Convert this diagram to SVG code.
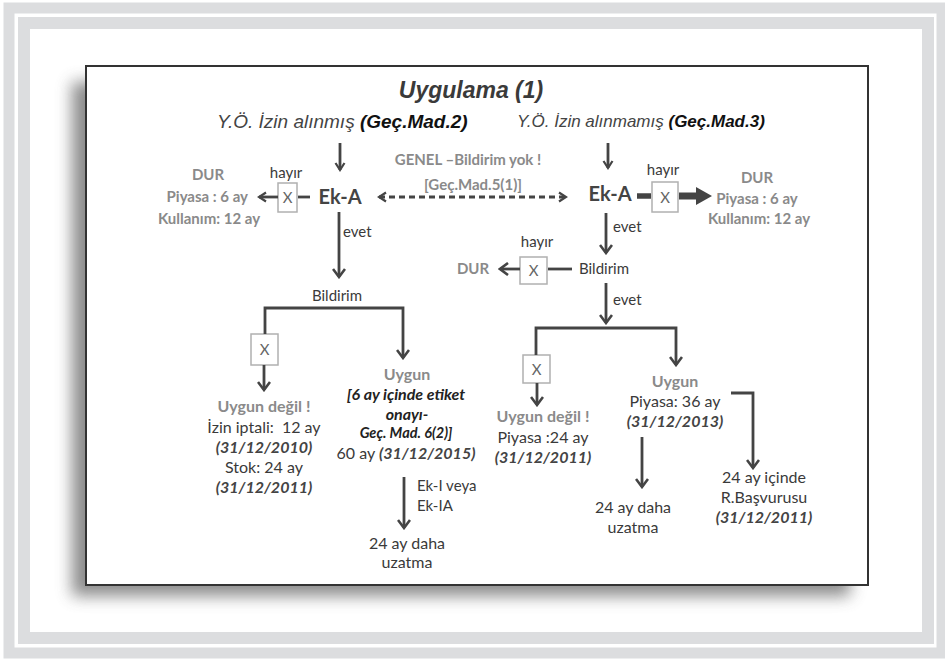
<svg xmlns="http://www.w3.org/2000/svg" width="945" height="660" viewBox="0 0 945 660">
<defs>
<style>
.t{font-family:Lato,"Liberation Sans",sans-serif;font-size:15px;fill:#3a3a3a}
.s16{font-size:16px}
.s20{font-size:20px}
.s13{font-size:14.5px}
.g{fill:#8a8a8a;font-weight:bold}
.b{font-weight:bold}
.bi{font-style:italic;font-weight:bold}
.dk{fill:#222}
.md{fill:#444}
.c{text-anchor:middle}
.h{font-family:"Liberation Sans",Arial,sans-serif;font-style:italic}
.ln{fill:none;stroke:#444;stroke-width:2.8}
.xb{fill:#fff;stroke:#b0b0b0;stroke-width:1.5}
.xt{font-family:Lato,"Liberation Sans",sans-serif;font-size:15px;fill:#666;text-anchor:middle}
</style>
<marker id="ah" viewBox="0 0 14 14" refX="12" refY="7" markerWidth="14" markerHeight="14" markerUnits="userSpaceOnUse" orient="auto">
<path d="M4,1 L12,7 L4,13" fill="none" stroke="#444" stroke-width="2.6"/>
</marker>
<marker id="ahs" viewBox="0 0 12 12" refX="10" refY="6" markerWidth="12" markerHeight="12" markerUnits="userSpaceOnUse" orient="auto-start-reverse">
<path d="M3,1.5 L10,6 L3,10.5" fill="none" stroke="#444" stroke-width="2.2"/>
</marker>
<filter id="sh" x="-10%" y="-10%" width="120%" height="130%">
<feGaussianBlur stdDeviation="8"/>
</filter>
</defs>

<rect x="0" y="0" width="945" height="660" fill="#fff"/>
<!-- frame bands -->
<rect x="9" y="8" width="933" height="645" fill="none" stroke="#dcdddf" stroke-width="11"/>
<rect x="24" y="23" width="904" height="615" fill="none" stroke="#dcdddf" stroke-width="12"/>

<!-- panel with shadow -->
<rect x="72" y="82" width="778" height="514" fill="#777" opacity="0.85" filter="url(#sh)"/>
<rect x="86" y="66" width="782" height="519" fill="#fff" stroke="#333" stroke-width="2"/>

<g id="title">
<text x="471" y="98" class="h c" font-size="23" font-weight="bold" fill="#3a3a3a">Uygulama (1)</text>
</g>
<g id="head-left">
<text x="217" y="128" class="h" font-size="19" fill="#444">Y.Ö. İzin alınmış <tspan font-weight="bold" fill="#111">(Geç.Mad.2)</tspan></text>
</g>
<g id="head-right">
<text x="517" y="127" class="h" font-size="17" fill="#444">Y.Ö. İzin alınmamış <tspan font-weight="bold" fill="#111">(Geç.Mad.3)</tspan></text>
</g>

<g id="genel">
<text x="468" y="165" class="t g c">GENEL –Bildirim yok !</text>
<text x="473" y="190" class="t g c">[Geç.Mad.5(1)]</text>
</g>

<!-- left top -->
<g id="dur-left">
<text x="208" y="180" class="t g c">DUR</text>
<text x="248" y="202" class="t g" text-anchor="end">Piyasa : 6 ay</text>
<text x="209" y="224" class="t g c">Kullanım: 12 ay</text>
</g>
<g id="hayir-left"><text x="286" y="178" class="t c">hayır</text></g>
<g id="x-left-top"><rect x="278" y="183" width="19" height="29" class="xb"/><text x="287.5" y="203" class="xt">X</text></g>
<g id="eka-left"><text x="340" y="204" class="t b c s20 md">Ek-A</text></g>
<g id="evet-left"><text x="343" y="237" class="t">evet</text></g>
<g id="bildirim-left"><text x="337" y="301" class="t c">Bildirim</text></g>
<g id="x-left-low"><rect x="251" y="334" width="27" height="31" class="xb"/><text x="264.5" y="355" class="xt">X</text></g>
<g id="uygun-degil-left">
<text x="264" y="412" class="t g c s16">Uygun değil !</text>
<text x="264" y="433" class="t c s16" xml:space="preserve">İzin iptali:  12 ay</text>
<text x="264" y="453" class="t bi c s16 md">(31/12/2010)</text>
<text x="264" y="473" class="t c s16">Stok: 24 ay</text>
<text x="264" y="493" class="t bi c s16 md">(31/12/2011)</text>
</g>
<g id="uygun-left">
<text x="407" y="380" class="t g c s16">Uygun</text>
<text x="406" y="400" class="t bi c s16 dk">[6 ay içinde etiket</text>
<text x="407" y="420" class="t bi c s16 dk">onayı-</text>
<text x="406" y="438" class="t bi c s13 dk">Geç. Mad. 6(2)]</text>
<text x="406" y="459" class="t c s16">60 ay <tspan class="bi md">(31/12/2015)</tspan></text>
</g>
<g id="ek-label">
<text x="417" y="491" class="t">Ek-I veya</text>
<text x="417" y="511" class="t">Ek-IA</text>
</g>
<g id="uzatma-left">
<text x="407" y="549" class="t c s16">24 ay daha</text>
<text x="407" y="568" class="t c s16">uzatma</text>
</g>

<!-- right top -->
<g id="hayir-right"><text x="663" y="175" class="t c">hayır</text></g>
<g id="eka-right"><text x="610" y="201" class="t b c s20 md">Ek-A</text></g>
<g id="x-right-top"><rect x="652" y="182" width="26" height="30" class="xb"/><text x="665" y="203" class="xt">X</text></g>
<g id="dur-right">
<text x="757" y="183" class="t g c">DUR</text>
<text x="757" y="204" class="t g c">Piyasa : 6 ay</text>
<text x="759" y="224" class="t g c">Kullanım: 12 ay</text>
</g>
<g id="evet-right1"><text x="613" y="232" class="t">evet</text></g>
<g id="hayir-right2"><text x="537" y="247" class="t c">hayır</text></g>
<g id="dur-mid"><text x="473" y="274" class="t g c">DUR</text></g>
<g id="x-right-mid"><rect x="520" y="257" width="27" height="27" class="xb"/><text x="533.5" y="276" class="xt">X</text></g>
<g id="bildirim-right"><text x="604" y="274" class="t c">Bildirim</text></g>
<g id="evet-right2"><text x="613" y="305" class="t">evet</text></g>
<g id="x-right-low"><rect x="523" y="355" width="27" height="28" class="xb"/><text x="536.5" y="375" class="xt">X</text></g>
<g id="uygun-degil-right">
<text x="543" y="422" class="t g c s16">Uygun değil !</text>
<text x="543" y="443" class="t c s16">Piyasa :24 ay</text>
<text x="543" y="463" class="t bi c s16 md">(31/12/2011)</text>
</g>
<g id="uygun-right">
<text x="675" y="387" class="t g c s16">Uygun</text>
<text x="675" y="407" class="t c s16">Piyasa: 36 ay</text>
<text x="675" y="427" class="t bi c s16 md">(31/12/2013)</text>
</g>
<g id="uzatma-right">
<text x="633" y="513" class="t c s16">24 ay daha</text>
<text x="633" y="533" class="t c s16">uzatma</text>
</g>
<g id="basvuru">
<text x="764" y="483" class="t c s16">24 ay içinde</text>
<text x="764" y="503" class="t c s16">R.Başvurusu</text>
<text x="764" y="523" class="t bi c s16 md">(31/12/2011)</text>
</g>

<g id="connectors">
<!-- heading arrows -->
<line x1="340" y1="143" x2="340" y2="170" class="ln" stroke-width="2.2" marker-end="url(#ahs)"/>
<line x1="608" y1="143" x2="608" y2="168" class="ln" stroke-width="2.2" marker-end="url(#ahs)"/>
<!-- dashed double arrow -->
<line x1="379" y1="197" x2="566" y2="197" class="ln" stroke-width="2.2" stroke-dasharray="6,4" marker-start="url(#ahs)" marker-end="url(#ahs)"/>
<!-- left top -->
<line x1="310" y1="197" x2="298" y2="197" class="ln" stroke-width="2.2"/>
<line x1="278" y1="197" x2="259" y2="197" class="ln" stroke-width="2.4" marker-end="url(#ahs)"/>
<line x1="339" y1="212" x2="339" y2="277" class="ln" marker-end="url(#ah)"/>
<polyline points="265,334 265,308 403,308 403,358" class="ln" marker-end="url(#ah)"/>
<line x1="264" y1="365" x2="264" y2="390" class="ln" marker-end="url(#ah)"/>
<line x1="404" y1="477" x2="404" y2="528" class="ln" marker-end="url(#ah)"/>
<!-- right top -->
<line x1="637" y1="196" x2="651" y2="196" stroke="#444" stroke-width="5.5"/>
<polygon points="679,192.5 696,192.5 696,187 712,196 696,205 696,199.5 679,199.5" fill="#444"/>
<line x1="606" y1="213" x2="606" y2="253" class="ln" marker-end="url(#ah)"/>
<line x1="572" y1="269" x2="548" y2="269" class="ln"/>
<line x1="520" y1="269" x2="500" y2="269" class="ln" marker-end="url(#ah)"/>
<line x1="606" y1="283" x2="606" y2="323" class="ln" marker-end="url(#ah)"/>
<polyline points="536,355 536,328 676,328 676,365" class="ln" marker-end="url(#ah)"/>
<line x1="537" y1="383" x2="537" y2="405" class="ln" marker-end="url(#ah)"/>
<line x1="642" y1="437" x2="642" y2="487" class="ln" marker-end="url(#ah)"/>
<polyline points="731,393 753,393 753,468" class="ln" marker-end="url(#ah)"/>
</g>
</svg>
